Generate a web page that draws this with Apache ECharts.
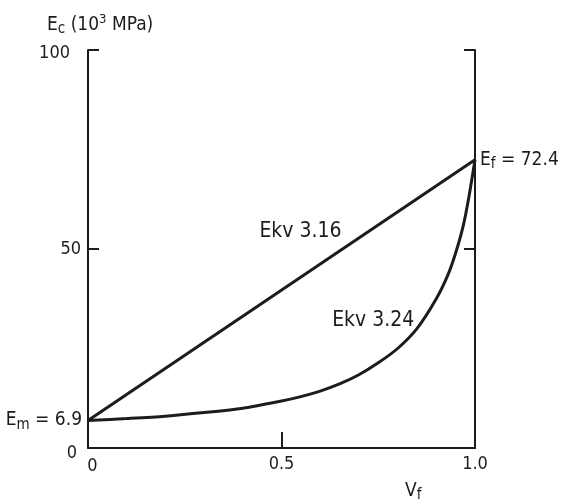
<!DOCTYPE html>
<html>
<head>
<meta charset="utf-8">
<script src="https://cdn.jsdelivr.net/npm/echarts@6/dist/echarts.min.js"></script>
<style>
  html, body { margin: 0; padding: 0; background: #ffffff; }
  #chart { width: 565px; height: 500px; }
</style>
</head>
<body>
<div id="chart"></div>
<script>
// Fibre volume fraction and composite modulus (10^3 MPa)
const vfLinear = [0, 1.0];
const ecLinear = [6.9, 72.4];            // Ekv 3.16, parallel model

const vfSeries = [0, 0.1, 0.2, 0.3, 0.4, 0.5, 0.55, 0.6, 0.65, 0.7, 0.75, 0.8, 0.85, 0.9, 0.93, 0.95, 0.97, 0.985, 1.0];
const ecSeries = [6.9, 7.4, 8.0, 8.9, 10.0, 11.8, 12.9, 14.3, 16.1, 18.4, 21.4, 25.0, 30.0, 37.5, 43.5, 49.0, 56.0, 63.5, 72.4]; // Ekv 3.24, series model

const xTicks = [0, 0.5, 1.0];
const xTickText = ['0', '0.5', '1.0'];
const yTicks = [0, 50, 100];

const FONT = '"Liberation Sans Narrow", "DejaVu Sans Condensed", "DejaVu Sans", sans-serif';
const INK = '#1c1c1c';

const pair = (xs, ys) => xs.map((x, i) => [x, ys[i]]);

const linearData = pair(vfLinear, ecLinear);
const seriesData = pair(vfSeries, ecSeries);

const richLetters = {
  t: { fontFamily: FONT, fontSize: 19, fontWeight: 'normal', color: INK, lineHeight: 24 },
  sub: { fontFamily: FONT, fontSize: 15, fontWeight: 'normal', color: INK, lineHeight: 14, verticalAlign: 'bottom' },
  sup: { fontFamily: FONT, fontSize: 13, fontWeight: 'normal', color: INK, lineHeight: 12, verticalAlign: 'top' }
};

// Matrix modulus label at the left end of the lines
linearData[0] = {
  value: linearData[0],
  label: {
    show: true, position: 'left', distance: 6,
    formatter: '{t|E}{sub|m}{t| = ' + ecLinear[0] + '}',
    rich: richLetters
  }
};
// Fibre modulus label at the right end
linearData[linearData.length - 1] = {
  value: linearData[linearData.length - 1],
  label: {
    show: true, position: 'right', distance: 5,
    formatter: '{t|E}{sub|f}{t| = ' + ecLinear[ecLinear.length - 1] + '}',
    rich: richLetters
  }
};

const chart = echarts.init(document.getElementById('chart'), null, { renderer: 'canvas' });

const axisLineStyle = { color: INK, width: 2 };

chart.setOption({
  backgroundColor: '#ffffff',
  animation: false,
  title: [
    {
      left: 42, top: 8,
      text: '{t|E}{sub|c}{t| (10}{sup|3}{t| MPa)}',
      textStyle: { fontWeight: 'normal', rich: richLetters }
    },
    {
      left: 400, top: 474,
      text: '{t|V}{sub|f}',
      textStyle: { fontWeight: 'normal', rich: richLetters }
    }
  ],
  grid: { left: 88, right: 90, top: 50, bottom: 52, containLabel: false },
  xAxis: {
    type: 'value', min: 0, max: 1, interval: 0.5,
    axisLine: { show: true, lineStyle: axisLineStyle },
    axisTick: { show: true, inside: true, length: 16, lineStyle: axisLineStyle },
    axisLabel: {
      show: true, margin: 7, color: INK, fontFamily: FONT, fontSize: 18,
      formatter: v => {
        const i = xTicks.indexOf(v);
        if (i < 0) return '';
        return i === 0 ? '{z|' + xTickText[i] + '}' : xTickText[i];
      },
      rich: {
        z: { fontFamily: FONT, fontSize: 18, color: INK, padding: [2, 0, 0, 9] }
      }
    },
    splitLine: { show: false }
  },
  yAxis: [
    {
      type: 'value', min: 0, max: 100, interval: 50, position: 'left',
      axisLine: { show: true, lineStyle: axisLineStyle },
      axisTick: { show: true, inside: true, length: 11, lineStyle: axisLineStyle },
      axisLabel: {
        show: true, margin: 7, color: INK, fontFamily: FONT, fontSize: 18,
        formatter: v => v === yTicks[2] ? '{a|' + v + '}' : v === yTicks[1] ? '{b|' + v + '}' : '{c|' + v + '}',
        rich: {
          a: { fontFamily: FONT, fontSize: 18, color: INK, padding: [6, 11, 0, 0] },
          b: { fontFamily: FONT, fontSize: 18, color: INK, padding: [0, 0, 0, 0] },
          c: { fontFamily: FONT, fontSize: 18, color: INK, padding: [10, 4, 0, 0] }
        }
      },
      splitLine: { show: false }
    },
    {
      type: 'value', min: 0, max: 100, interval: 50, position: 'right',
      axisLine: { show: true, lineStyle: axisLineStyle },
      axisTick: { show: true, inside: true, length: 11, lineStyle: axisLineStyle },
      axisLabel: { show: false },
      splitLine: { show: false }
    }
  ],
  series: [
    {
      name: 'Ekv 3.16',
      type: 'line',
      data: linearData,
      showSymbol: true,
      symbol: 'circle',
      symbolSize: 0,
      lineStyle: { color: INK, width: 3 },
      itemStyle: { color: INK },
      markPoint: {
        symbol: 'circle', symbolSize: 0,
        data: [{ coord: [0.549, 54.4], value: 'Ekv 3.16' }],
        label: {
          show: true, position: 'inside', color: INK,
          fontFamily: FONT, fontSize: 21, formatter: 'Ekv 3.16'
        }
      }
    },
    {
      name: 'Ekv 3.24',
      type: 'line',
      data: seriesData,
      showSymbol: false,
      symbol: 'none',
      smooth: 0.3,
      lineStyle: { color: INK, width: 3 },
      markPoint: {
        symbol: 'circle', symbolSize: 0,
        data: [{ coord: [0.737, 32.0], value: 'Ekv 3.24' }],
        label: {
          show: true, position: 'inside', color: INK,
          fontFamily: FONT, fontSize: 21, formatter: 'Ekv 3.24'
        }
      }
    }
  ]
});
</script>
</body>
</html>
